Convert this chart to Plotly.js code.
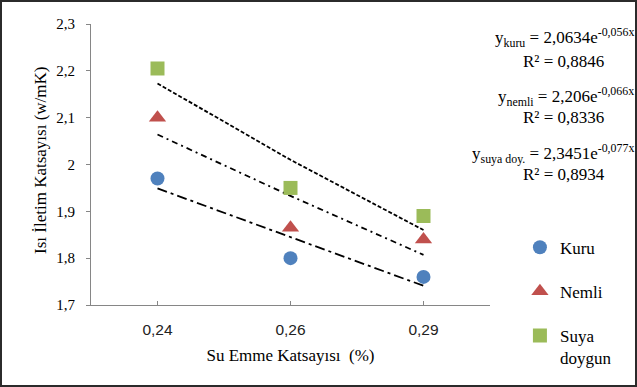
<!DOCTYPE html>
<html><head><meta charset="utf-8">
<script src="https://cdn.plot.ly/plotly-3.0.1.min.js"></script>
<style>html,body{margin:0;padding:0;background:#fff}
#frame{width:637px;height:387px;box-sizing:border-box;border:2px solid #2b2b2b;overflow:hidden;background:#fff}
#chart{width:633px;height:383px}</style></head>
<body><div id="frame"><div id="chart"></div></div>
<script>
// ---- data ----
const categories = ['0,24', '0,26', '0,29'];
const kuru  = [1.97, 1.80, 1.76];
const nemli = [2.10, 1.865, 1.84];
const suya  = [2.205, 1.95, 1.89];
// exponential trend lines
const kuruTrend  = [1.949, 1.845, 1.741];
const nemliTrend = [2.064, 1.933, 1.807];
const suyaTrend  = [2.173, 2.010, 1.860];
const seriesNames = ['Kuru', 'Nemli', 'Suya<br>doygun'];
const eqNames = ['kuru', 'nemli', 'suya doy.'];
const eqA = ['2,0634', '2,206', '2,3451'];
const eqB = ['-0,056x', '-0,066x', '-0,077x'];
const eqR2 = ['0,8846', '0,8336', '0,8934'];

const xs = categories.map((c, i) => i + 1);
const colors = ['#4F81BD', '#C0504D', '#9BBB59'];
const symbols = ['circle', 'triangle-up', 'square'];
const vals = [kuru, nemli, suya];
const trends = [kuruTrend, nemliTrend, suyaTrend];
const dashes = ['10px,4px,3px,4px', '6px,4px,2px,4px', '4px,2px'];
const serif = '"Liberation Serif"';

const traces = [];
trends.forEach((t, i) => traces.push({
  x: xs, y: t, mode: 'lines', showlegend: false, hoverinfo: 'skip',
  line: {color: '#000', width: 1.8, dash: dashes[i]}
}));
vals.forEach((v, i) => traces.push({
  x: xs, y: v, mode: 'markers', name: seriesNames[i], legendgroup: 'g' + i,
  marker: {color: colors[i], symbol: symbols[i], size: i === 1 ? 15 : 14, line: {width: 0}}
}));

const eqY = [[0.951, 0.865], [0.743, 0.669], [0.538, 0.465]];
const annotations = [];
eqNames.forEach((n, i) => {
  annotations.push({xref: 'paper', yref: 'paper', x: 1.365, y: eqY[i][0], xanchor: 'right', yanchor: 'middle',
    showarrow: false, font: {family: serif, size: 17, color: '#000'},
    text: 'y<sub>' + n + '</sub> = ' + eqA[i] + 'e<sup>' + eqB[i] + '</sup>'});
  annotations.push({xref: 'paper', yref: 'paper', x: 1.185, y: eqY[i][1], xanchor: 'center', yanchor: 'middle',
    showarrow: false, font: {family: serif, size: 17, color: '#000'},
    text: 'R² = ' + eqR2[i]});
});
// y-axis title placed as rotated text at the reference position
annotations.push({xref: 'paper', yref: 'paper', x: -0.128, y: 0.516, xanchor: 'center', yanchor: 'middle',
  textangle: -90, showarrow: false, font: {family: serif, size: 17, color: '#000'},
  text: 'Isı İletim Katsayısı (w/mK)'});

const layout = {
  width: 633, height: 383,
  margin: {l: 89, r: 145, t: 22, b: 80, autoexpand: false},
  paper_bgcolor: '#fff', plot_bgcolor: '#fff',
  separators: ',.',
  showlegend: true,
  legend: {x: 1.075, y: 0.268, xanchor: 'left', yanchor: 'top', valign: 'top',
    font: {family: serif, size: 17, color: '#000'}, tracegroupgap: 19, itemwidth: 30, bgcolor: 'rgba(0,0,0,0)'},
  xaxis: {
    range: [0.5, 3.5], tickvals: xs.concat([3.5]), ticktext: categories.concat(['']),
    showline: true, linecolor: '#868686', linewidth: 1, ticks: 'inside', ticklen: 4, tickcolor: '#868686',
    showgrid: false, zeroline: false, ticklabelstandoff: 10,
    tickfont: {family: '"Liberation Sans"', size: 15.5, color: '#222'},
    title: {text: 'Su Emme Katsayısı  (%)', font: {family: serif, size: 17, color: '#000'}, standoff: 12}
  },
  yaxis: {
    range: [1.7, 2.3], dtick: 0.1, tick0: 1.7,
    showline: true, linecolor: '#868686', linewidth: 1, ticks: 'outside', ticklen: 4, tickcolor: '#868686',
    showgrid: false, zeroline: false, ticklabelstandoff: 8,
    tickfont: {family: serif, size: 15, color: '#000'}
  },
  annotations: annotations
};
Plotly.newPlot('chart', traces, layout, {displayModeBar: false, staticPlot: true});
</script></body></html>
